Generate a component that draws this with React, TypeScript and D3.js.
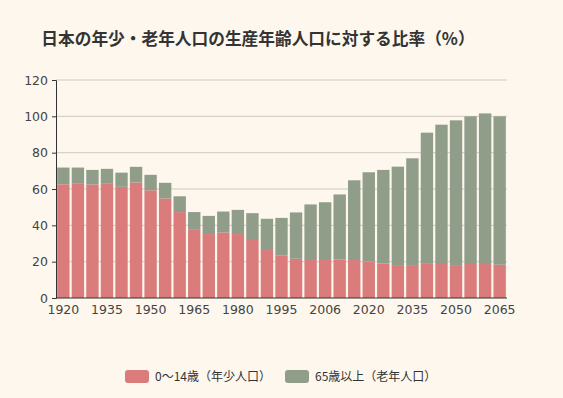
import React, { useEffect, useRef } from 'react';
import * as d3 from 'd3';

const years = ['1920', '1925', '1930', '1935', '1940', '1947', '1950', '1955', '1960', '1965', '1970', '1975', '1980', '1985', '1990', '1995', '2000', '2005', '2006', '2010', '2015', '2020', '2025', '2030', '2035', '2040', '2045', '2050', '2055', '2060', '2065'];
// 年少人口指数 (0-14)
const young = [62.6, 63.2, 62.5, 63.2, 61.2, 63.6, 59.3, 54.8, 47.3, 37.9, 35.2, 36.1, 35.2, 31.9, 26.4, 23.3, 21.6, 20.9, 20.9, 21.1, 20.9, 20.1, 19.0, 18.1, 18.1, 19.2, 18.7, 18.1, 18.7, 18.7, 18.3];
// 老年人口指数 (65+)
const old = [9.2, 8.6, 8.0, 7.9, 7.8, 8.6, 8.5, 8.6, 8.7, 9.4, 10.0, 11.5, 13.3, 14.8, 17.2, 20.8, 25.5, 30.6, 31.8, 35.9, 43.9, 49.1, 51.5, 54.2, 58.8, 71.8, 76.7, 79.7, 81.3, 82.9, 81.7];
const yTicks = [0, 20, 40, 60, 80, 100, 120];
const keys = ['young', 'old'];
const labels = ['0〜14歳（年少人口）', '65歳以上（老年人口）'];

const W = 563;
const H = 398;
const FONT = '"Noto Sans CJK JP", "Noto Sans", sans-serif';
const NUM_FONT = '"DejaVu Sans", sans-serif';

export default function App() {
  const ref = useRef<SVGSVGElement>(null);

  useEffect(() => {
    const svg = d3.select(ref.current);
    svg.selectAll('*').remove();

    const left = 56;
    const right = 507;
    const x = d3.scaleBand().domain(years).range([left, right]).paddingInner(0.15).paddingOuter(0.08);
    const y = d3.scaleLinear().domain([0, 120]).range([298, 80]);
    const color = d3.scaleOrdinal<string>().domain(keys).range(['#d97c7b', '#8f9d89']);

    svg.append('rect').attr('width', W).attr('height', H).attr('fill', '#fdf7ee');

    // title
    svg.append('text')
      .attr('x', 258).attr('y', 45)
      .attr('text-anchor', 'middle')
      .attr('font-size', 16.7).attr('font-weight', 'bold')
      .attr('fill', '#333')
      .text('日本の年少・老年人口の生産年齢人口に対する比率（%）');

    // grid
    svg.append('g')
      .selectAll('line')
      .data(yTicks.filter(d => d > 0))
      .join('line')
      .attr('x1', left).attr('x2', right)
      .attr('y1', d => y(d)).attr('y2', d => y(d))
      .attr('stroke', '#cfcac2').attr('stroke-width', 1);

    const rows = years.map((yr, i) => ({ year: yr, young: young[i], old: old[i] }));
    const stacked = d3.stack<any>().keys(keys)(rows);

    svg.append('g')
      .selectAll('g')
      .data(stacked)
      .join('g')
      .attr('fill', d => color(d.key))
      .selectAll('rect')
      .data(d => d)
      .join('rect')
      .attr('x', d => x(d.data.year)!)
      .attr('width', x.bandwidth())
      .attr('y', d => y(d[1]))
      .attr('height', d => y(d[0]) - y(d[1]));

    // axes
    const yAxis = svg.append('g')
      .attr('transform', `translate(${left},0)`)
      .call(d3.axisLeft(y).tickValues(yTicks).tickSize(4).tickPadding(4));
    yAxis.select('.domain').attr('stroke', '#333');
    yAxis.selectAll('.tick line').attr('stroke', '#333');
    yAxis.selectAll('text').attr('font-size', 12.5).attr('font-family', NUM_FONT).attr('fill', '#444');

    const xAxis = svg.append('g')
      .attr('transform', `translate(0,${y(0)})`)
      .call(d3.axisBottom(x).tickValues(years.filter((_, i) => i % 3 === 0)).tickSize(0).tickPadding(7));
    xAxis.select('.domain').attr('stroke', '#333').attr('d', `M${left},0H${right}`);
    xAxis.selectAll('text').attr('font-size', 12.5).attr('font-family', NUM_FONT).attr('fill', '#444');

    // legend
    const legendX = [125, 285];
    const lg = svg.append('g')
      .selectAll('g')
      .data(keys)
      .join('g')
      .attr('transform', (_, i) => `translate(${legendX[i]},370)`);
    lg.append('rect')
      .attr('width', 24).attr('height', 13).attr('rx', 3)
      .attr('fill', d => color(d));
    lg.append('text')
      .attr('x', 30).attr('y', 11)
      .attr('font-size', 12).attr('font-family', FONT).attr('fill', '#333')
      .text((_, i) => labels[i]);
  }, []);

  return (
    <svg ref={ref} width={W} height={H} style={{ display: 'block', position: 'absolute', left: 0, top: 0, fontFamily: FONT }} />
  );
}
